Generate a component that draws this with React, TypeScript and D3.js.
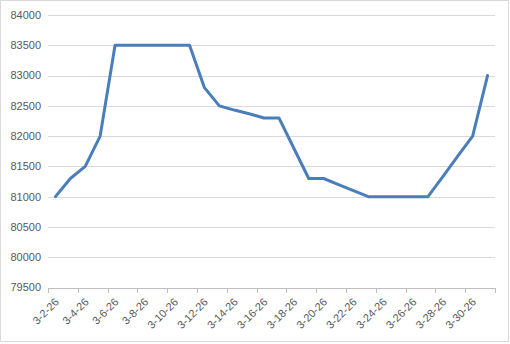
import React from "react";
import * as d3 from "d3";

const categories: string[] = [
  "3-2-26","3-3-26","3-4-26","3-5-26","3-6-26","3-7-26","3-8-26","3-9-26","3-10-26","3-11-26",
  "3-12-26","3-13-26","3-14-26","3-15-26","3-16-26","3-17-26","3-18-26","3-19-26","3-20-26","3-21-26",
  "3-22-26","3-23-26","3-24-26","3-25-26","3-26-26","3-27-26","3-28-26","3-29-26","3-30-26","3-31-26",
];
const values: number[] = [
  81000, 81300, 81500, 82000, 83500, 83500, 83500, 83500, 83500, 83500,
  82800, 82500, 82430, 82370, 82300, 82300, 81800, 81300, 81300, 81200,
  81100, 81000, 81000, 81000, 81000, 81000, 81330, 81670, 82000, 83000,
];
const yTicks: number[] = [79500, 80000, 80500, 81000, 81500, 82000, 82500, 83000, 83500, 84000];

const W = 510;
const H = 344;
const left = 48;
const right = 495;
const top = 15;
const bottom = 287.5;

export default function App() {
  const x = d3.scaleBand<string>().domain(categories).range([left, right]).padding(0);
  const y = d3.scaleLinear().domain([79500, 84000]).range([bottom, top]);
  const bw = x.bandwidth();
  const line = d3
    .line<number>()
    .x((_, i) => (x(categories[i]) as number) + bw / 2)
    .y((d) => y(d));

  const tickCats = categories.filter((_, i) => i % 2 === 0);
  const tickXs = [...tickCats.map((c) => x(c) as number), right];

  return (
    <svg
      width={W}
      height={H}
      style={{ position: "absolute", left: 0, top: 0, background: "#fff" }}
      fontFamily="'Liberation Sans', Arial, sans-serif"
    >
      <rect x={0.5} y={0.5} width={508} height={341} fill="#fff" stroke="#d9d9d9" />
      {yTicks.map((t) => (
        <g key={t}>
          {t !== 79500 && (
            <line x1={left} x2={right} y1={Math.round(y(t)) + 0.5} y2={Math.round(y(t)) + 0.5} stroke="#d9d9d9" strokeWidth={1} />
          )}
          <text x={41} y={y(t)} dy="0.35em" textAnchor="end" fontSize={11} fill="#595959">
            {t}
          </text>
        </g>
      ))}
      <line x1={left} x2={right} y1={Math.round(bottom) + 0.5} y2={Math.round(bottom) + 0.5} stroke="#bfbfbf" />
      {tickXs.map((tx, i) => (
        <line key={i} x1={Math.round(tx) + 0.5} x2={Math.round(tx) + 0.5} y1={Math.round(bottom)} y2={Math.round(bottom) + 5} stroke="#bfbfbf" />
      ))}
      {tickCats.map((c) => {
        const cx = (x(c) as number) + bw / 2 + 1.5;
        const cy = bottom + 12.5;
        return (
          <text
            key={c}
            x={cx}
            y={cy}
            textAnchor="end"
            fontSize={11}
            fill="#595959"
            dy="0.35em"
            transform={`rotate(-45 ${cx} ${cy})`}
          >
            {c}
          </text>
        );
      })}
      <path d={line(values) || ""} fill="none" stroke="#4a7ebb" strokeWidth={3} strokeLinejoin="round" strokeLinecap="round" />
    </svg>
  );
}
